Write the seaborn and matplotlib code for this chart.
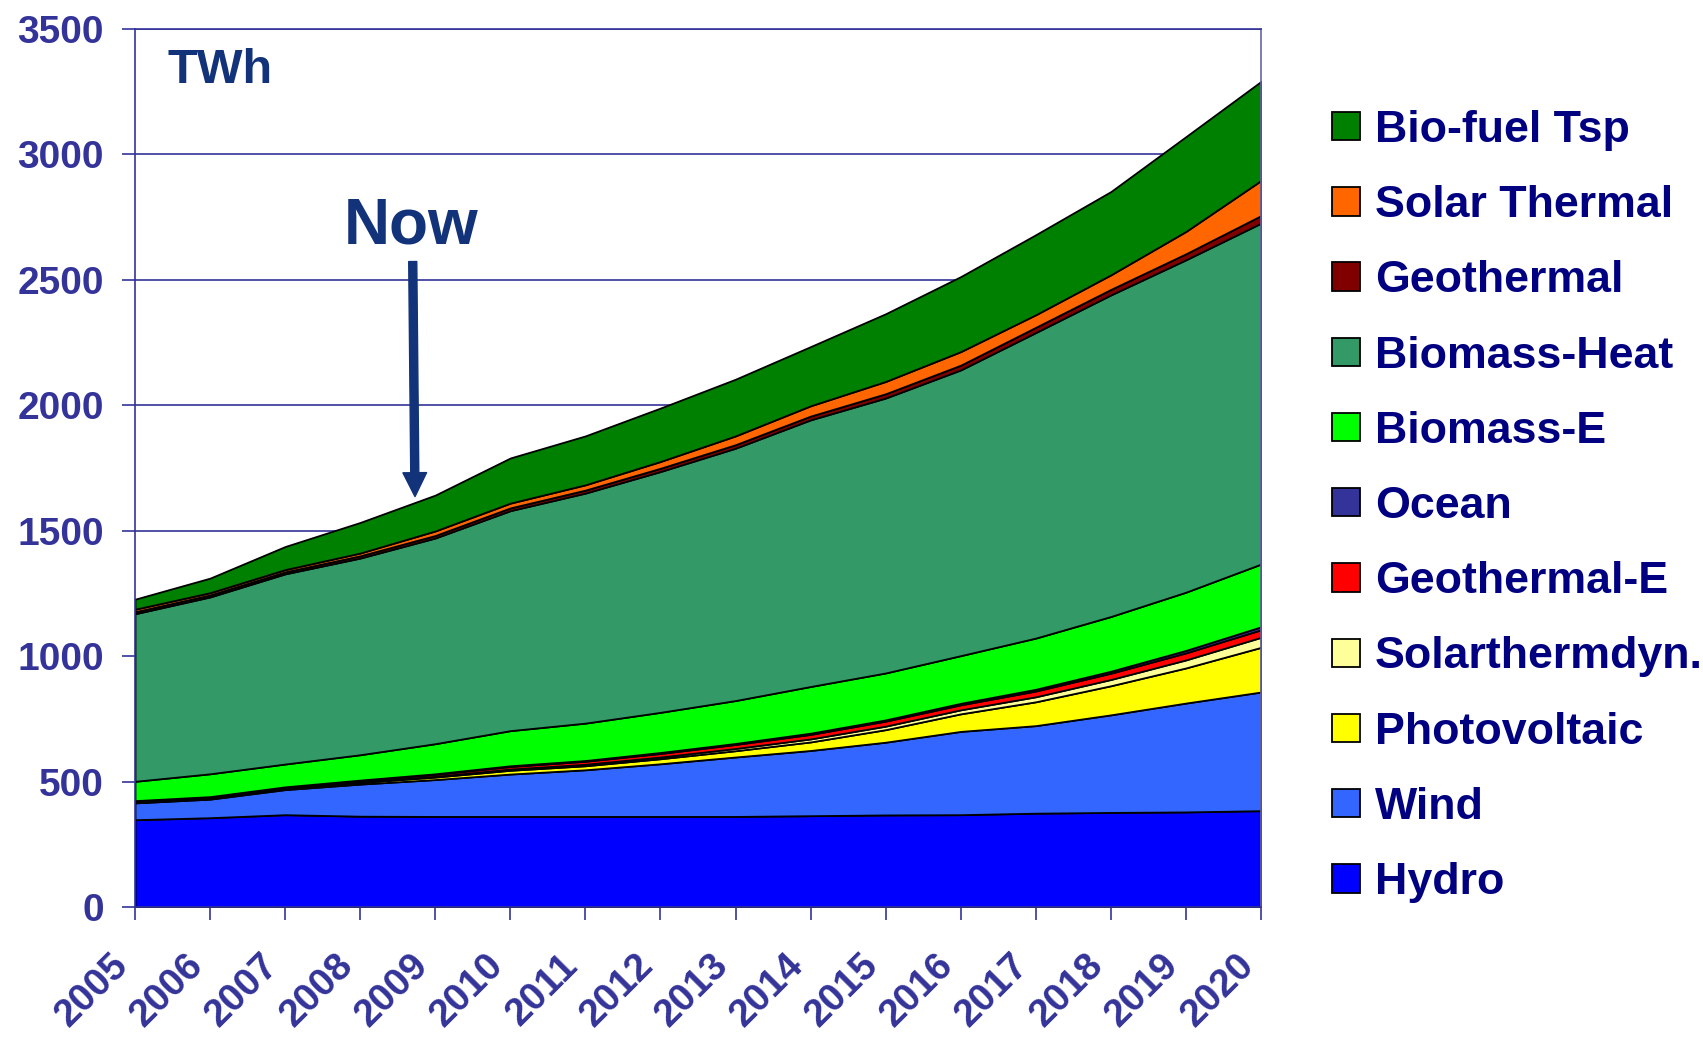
import matplotlib
matplotlib.use("Agg")
import matplotlib.pyplot as plt
import seaborn as sns

# Renewable energy contribution by source, TWh
years = list(range(2005, 2021))
hydro = [348, 356, 368, 362, 361, 361, 361, 361, 361, 364, 367, 368, 374, 377, 379, 384]
wind = [67, 74, 100, 128, 147, 169, 186, 210, 237, 260, 290, 332, 349, 389, 434, 473]
photovoltaic = [2, 3, 4, 7, 10, 15, 16, 20, 25, 34, 50, 70, 95, 116, 140, 178]
solarthermdyn = [0, 0, 0, 1, 3, 5, 6, 7, 9, 12, 14, 16, 20, 25, 32, 40]
geothermal_e = [6, 6, 6, 7, 8, 10, 12, 14, 16, 18, 20, 20, 23, 25, 28, 30]
ocean = [1, 1, 1, 1, 2, 3, 3, 4, 4, 5, 5, 6, 7, 8, 10, 12]
biomass_e = [77, 91, 91, 101, 120, 140, 149, 160, 171, 186, 187, 190, 204, 218, 232, 250]
biomass_heat = [668, 705, 758, 784, 820, 877, 917, 960, 1006, 1063, 1096, 1139, 1218, 1282, 1325, 1359]
geothermal = [8, 8, 8, 9, 10, 11, 12, 13, 14, 15, 17, 19, 21, 22, 24, 30]
solar_thermal = [10, 9, 9, 11, 18, 19, 21, 27, 35, 41, 49, 54, 50, 58, 89, 140]
biofuel_tsp = [40, 58, 92, 122, 143, 180, 195, 213, 226, 236, 270, 299, 319, 332, 378, 395]

labels = ["Hydro", "Wind", "Photovoltaic", "Solarthermdyn.", "Geothermal-E", "Ocean",
          "Biomass-E", "Biomass-Heat", "Geothermal", "Solar Thermal", "Bio-fuel Tsp"]
colors = ["#0000FF", "#3366FF", "#FFFF00", "#FFFF99", "#FF0000", "#333399",
          "#00FF00", "#339966", "#800000", "#FF6600", "#008000"]
yticks = [0, 500, 1000, 1500, 2000, 2500, 3000, 3500]

axis_col = "#333399"
text_col = "#000080"
note_col = "#12327A"

sns.set_theme(style="white")
plt.rcParams["font.family"] = ["Liberation Sans", "DejaVu Sans"]
plt.rcParams["font.weight"] = "bold"

fig = plt.figure(figsize=(17.03, 10.40), dpi=100)
ax = fig.add_axes([135 / 1703, 1 - 907 / 1040, (1261 - 135) / 1703, (907 - 29) / 1040])

series = [hydro, wind, photovoltaic, solarthermdyn, geothermal_e, ocean,
          biomass_e, biomass_heat, geothermal, solar_thermal, biofuel_tsp]
polys = ax.stackplot(years, *series, labels=labels, colors=colors,
                     edgecolor="black", linewidth=1.3, zorder=2)

ax.set_xlim(2005, 2020)
ax.set_ylim(0, 3500)
ax.set_yticks(yticks)
ax.set_xticks(years)
ax.set_axisbelow(True)
ax.yaxis.grid(True, color=axis_col, linewidth=1.2)
ax.xaxis.grid(False)

for side in ["left", "bottom", "top", "right"]:
    ax.spines[side].set_visible(True)
    ax.spines[side].set_color(axis_col)
    ax.spines[side].set_linewidth(1.2)
ax.spines["right"].set_color("#6666AA")

ax.tick_params(axis="y", direction="out", length=9.5, width=1.2, color=axis_col,
               labelsize=28, labelcolor=axis_col, pad=13, left=True)
ax.tick_params(axis="x", direction="out", length=9, width=1.2, color=axis_col,
               labelsize=28, labelcolor=axis_col, pad=20, bottom=True)
for lbl in ax.get_yticklabels():
    lbl.set_fontweight("bold")
ax.set_xticklabels([str(y) for y in years], rotation=45, ha="right", va="top",
                   fontweight="bold")

# unit label and "Now" marker
fig.text(168 / 1703, 1 - 83 / 1040, "TWh", fontsize=35, fontweight="bold",
         color=note_col, ha="left", va="baseline")
ax.text(2008.68, 2646, "Now", fontsize=46, fontweight="bold", color=note_col,
        ha="center", va="baseline")
ax.annotate("", xy=(2008.73, 1636), xytext=(2008.70, 2573),
            arrowprops=dict(arrowstyle="simple,head_length=0.86,head_width=0.85,tail_width=0.29",
                            mutation_scale=20, color=note_col, shrinkA=0, shrinkB=0))

handles, hlabels = ax.get_legend_handles_labels()
leg = fig.legend(handles[::-1], hlabels[::-1], loc="upper left",
                 bbox_to_anchor=(1332 / 1703, 1 - 110 / 1040),
                 frameon=False, fontsize=32.2, handlelength=0.63, handleheight=0.6,
                 handletextpad=0.33, labelspacing=0.765, borderpad=0, borderaxespad=0)
for t in leg.get_texts():
    t.set_color(text_col)
    t.set_fontweight("bold")

fig.savefig("out.png", dpi=100)
